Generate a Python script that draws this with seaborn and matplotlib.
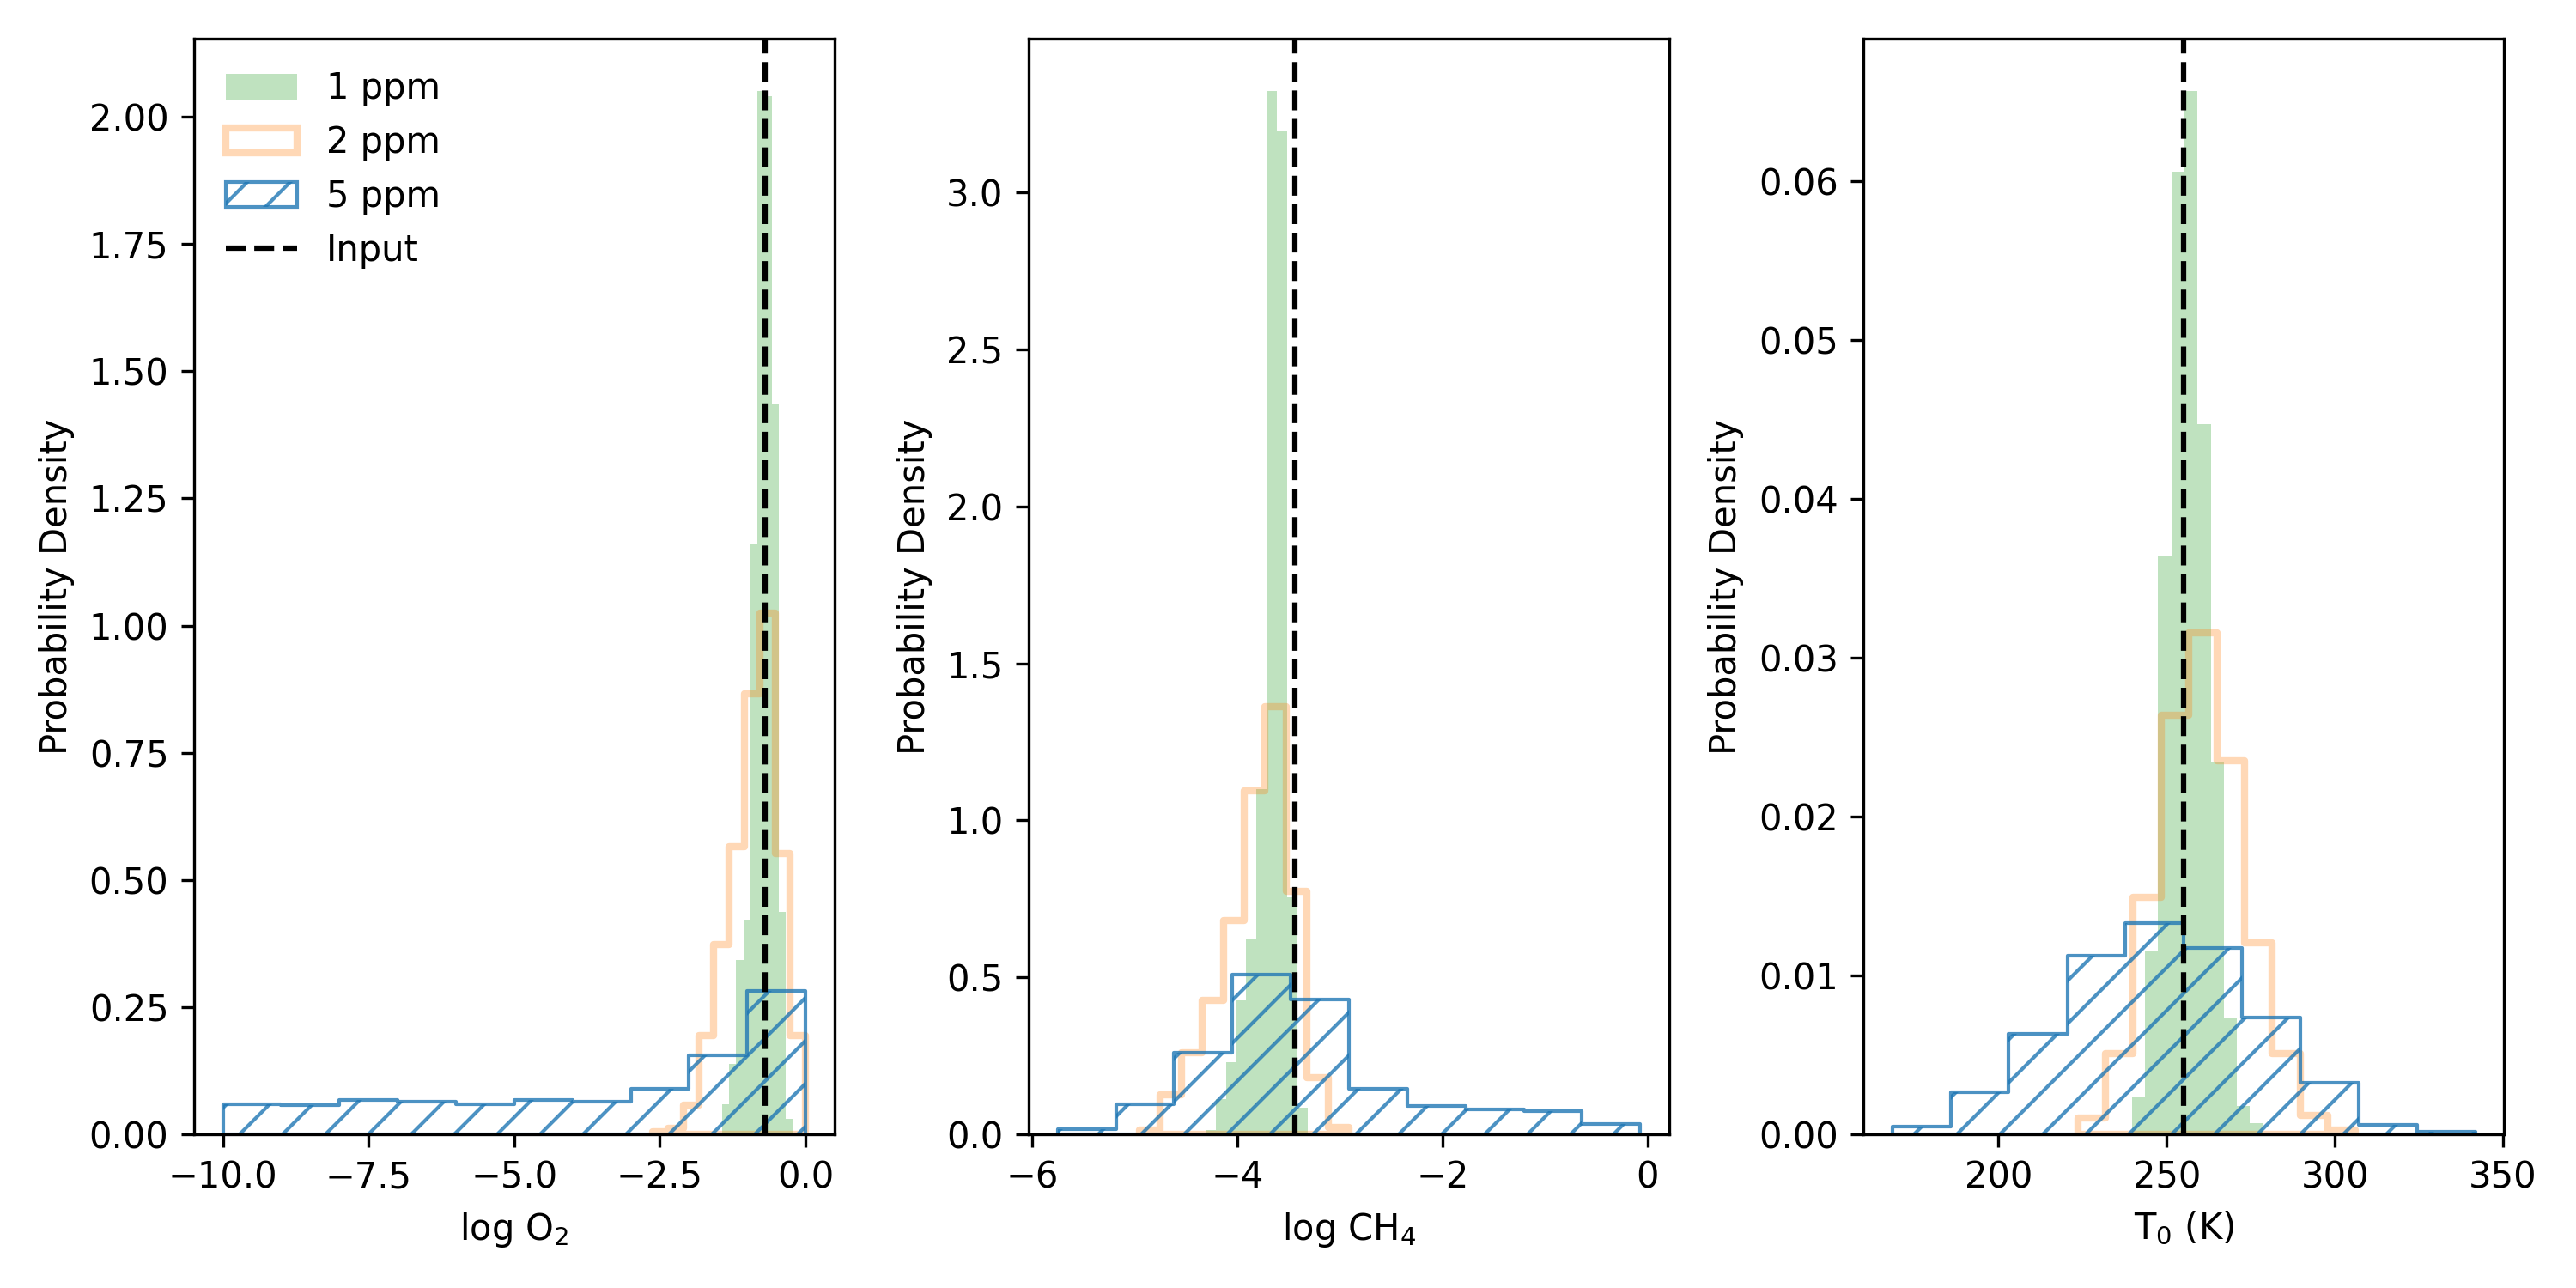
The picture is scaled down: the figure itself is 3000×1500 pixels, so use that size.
import numpy as np
import matplotlib
matplotlib.use("Agg")
import matplotlib.pyplot as plt
from matplotlib.colors import to_rgba
from matplotlib.patches import Patch
from matplotlib.lines import Line2D
import seaborn as sns

# ---------------- data ----------------
labels = ["1 ppm", "2 ppm", "5 ppm"]

# log O2
o2_edges_1 = [-1.433, -1.312, -1.190, -1.069, -0.948, -0.826, -0.705, -0.584, -0.462, -0.341, -0.220]
o2_dens_1 = [0.059, 0.138, 0.343, 0.420, 1.160, 2.051, 2.041, 1.434, 0.437, 0.031]
o2_edges_2 = [-2.620, -2.358, -2.096, -1.834, -1.572, -1.310, -1.048, -0.786, -0.524, -0.262, 0.0]
o2_dens_2 = [0.006, 0.012, 0.058, 0.195, 0.373, 0.565, 0.866, 1.025, 0.552, 0.195]
o2_edges_5 = [-10.0, -9.0, -8.0, -7.0, -6.0, -5.0, -4.0, -3.0, -2.0, -1.0, 0.0]
o2_dens_5 = [0.060, 0.057, 0.068, 0.065, 0.059, 0.067, 0.065, 0.090, 0.156, 0.282]
o2_input = -0.69

# log CH4
ch4_edges_1 = [-4.311, -4.212, -4.112, -4.013, -3.914, -3.815, -3.715, -3.616, -3.517, -3.417, -3.318]
ch4_dens_1 = [0.015, 0.112, 0.230, 0.428, 0.625, 1.100, 3.323, 3.196, 0.755, 0.085]
ch4_edges_2 = [-4.957, -4.753, -4.548, -4.344, -4.139, -3.935, -3.731, -3.526, -3.322, -3.117, -2.913]
ch4_dens_2 = [0.013, 0.126, 0.260, 0.428, 0.682, 1.095, 1.362, 0.774, 0.181, 0.023]
ch4_edges_5 = [-5.754, -5.186, -4.617, -4.049, -3.480, -2.912, -2.343, -1.775, -1.206, -0.638, -0.069]
ch4_dens_5 = [0.016, 0.095, 0.259, 0.510, 0.431, 0.145, 0.090, 0.079, 0.074, 0.032]
ch4_input = -3.44

# T0 (K)
t_edges_1 = [239.7, 243.6, 247.5, 251.4, 255.3, 259.2, 263.1, 267.0, 270.9, 274.8, 278.7]
t_dens_1 = [0.0024, 0.0115, 0.0364, 0.0606, 0.0657, 0.0447, 0.0234, 0.0073, 0.0018, 0.0007]
t_edges_2 = [223.6, 231.9, 240.1, 248.4, 256.6, 264.9, 273.2, 281.4, 289.7, 297.9, 306.2]
t_dens_2 = [0.00106, 0.0051, 0.01495, 0.0264, 0.0316, 0.0235, 0.01206, 0.0051, 0.0012, 0.00026]
t_edges_5 = [168.5, 185.8, 203.1, 220.5, 237.8, 255.1, 272.4, 289.7, 307.1, 324.4, 341.7]
t_dens_5 = [0.00052, 0.00267, 0.00635, 0.01124, 0.01333, 0.01172, 0.00737, 0.00326, 0.00063, 0.00016]
t_input = 255.0

xlabels = ["log O$_2$", "log CH$_4$", "T$_0$ (K)"]
ylabel = "Probability Density"

# ---------------- styling ----------------
green_face = to_rgba("tab:green", 0.3)
orange_edge = to_rgba("tab:orange", 0.3)
blue_edge = to_rgba("tab:blue", 0.8)
blue_hatch = "//"

panels = [
    (o2_edges_1, o2_dens_1, o2_edges_2, o2_dens_2, o2_edges_5, o2_dens_5, o2_input),
    (ch4_edges_1, ch4_dens_1, ch4_edges_2, ch4_dens_2, ch4_edges_5, ch4_dens_5, ch4_input),
    (t_edges_1, t_dens_1, t_edges_2, t_dens_2, t_edges_5, t_dens_5, t_input),
]


def centers(edges):
    e = np.asarray(edges, dtype=float)
    return 0.5 * (e[:-1] + e[1:])


fig, axes = plt.subplots(1, 3, figsize=(10, 5), dpi=300)

for i, (ax, p) in enumerate(zip(axes, panels)):
    e1, d1, e2, d2, e5, d5, xin = p
    sns.histplot(x=centers(e1), weights=d1, bins=e1, element="step", fill=True,
                 color="tab:green", facecolor=green_face, edgecolor="none",
                 linewidth=0, ax=ax)
    sns.histplot(x=centers(e2), weights=d2, bins=e2, element="step", fill=True,
                 color="tab:orange", facecolor="none", edgecolor=orange_edge,
                 linewidth=2, ax=ax)
    sns.histplot(x=centers(e5), weights=d5, bins=e5, element="step", fill=True,
                 color="tab:blue", facecolor="none", edgecolor=blue_edge,
                 linewidth=1, hatch=blue_hatch, ax=ax)
    ax.axvline(xin, color="black", linestyle="--", linewidth=1.5)
    ax.set_xlabel(xlabels[i])
    ax.set_ylabel(ylabel)

handles = [
    Patch(facecolor=green_face, edgecolor="none", label=labels[0]),
    Patch(facecolor="none", edgecolor=orange_edge, linewidth=2, label=labels[1]),
    Patch(facecolor="none", edgecolor=blue_edge, linewidth=1, hatch=blue_hatch, label=labels[2]),
    Line2D([0], [0], color="black", linestyle="--", linewidth=1.5, label="Input"),
]
axes[0].legend(handles=handles, loc="upper left", frameon=False)

plt.tight_layout()
fig.savefig("out.png", dpi=300)
